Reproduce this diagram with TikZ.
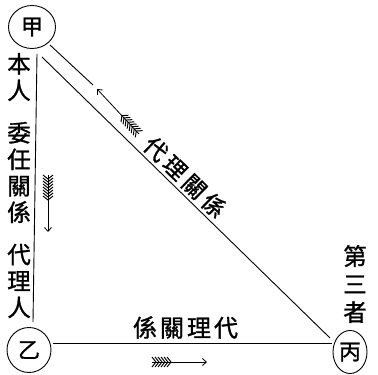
\documentclass[tikz,border=0pt]{standalone}
\usepackage{fontspec}
\newfontfamily\cjk[FakeBold=1.2]{Noto Sans CJK TC}
\usetikzlibrary{arrows.meta,shapes.geometric}
\tikzset{
  ring/.style={draw, ellipse, inner sep=0pt, line width=0.9pt, font=\cjk\fontsize{22}{22}\selectfont},
  lbl/.style={inner sep=0pt, align=center, font=\cjk\fontsize{23.5}{26.5}\selectfont},
  wire/.style={line width=0.9pt},
  shaft/.style={line width=0.8pt, -{Straight Barb[length=4pt,width=7pt,line width=0.8pt]}},
  fletch/.pic={
    \foreach \i in {0,3,...,#1}{\draw[line width=1pt] (\i,5) -- ++(4,-5) -- ++(-4,-5);}
  }
}
\begin{document}
\begin{tikzpicture}[x=1pt,y=-1pt]
\useasboundingbox (0,0) rectangle (378,375);
% circles
\node[ring, minimum width=47pt, minimum height=43pt] (jia) at (32,27) {甲};
\node[ring, minimum width=44pt, minimum height=45pt] (yi) at (29,350) {乙};
\node[ring, minimum width=34pt, minimum height=43pt] (bing) at (350,352) {丙};
% vertical labels
\node[lbl] (benren) at (19,77) {本\\人};
\node[lbl] (weiren) at (19,172.5) {委\\任\\關\\係};
\node[lbl] (dailiren) at (19,281) {代\\理\\人};
\node[lbl, font=\cjk\fontsize{23.5}{28}\selectfont] (disanzhe) at (355,284) {第\\三\\者};
% horizontal and diagonal labels
\node[lbl, font=\cjk\fontsize{24}{24}\selectfont] (hlab) at (185.5,327.5) {係\hspace{3pt}關\hspace{3pt}理\hspace{3pt}代};
\node[lbl, font=\cjk\fontsize{23}{23}\selectfont, rotate=-44.3] (dlab) at (185,177) {代\hspace{4pt}理\hspace{4pt}關\hspace{4pt}係};
% connectors
\draw[wire] ([shift={(5,5)}]jia.south) -- ([shift={(4,-5)}]yi.north);
\draw[wire] ([shift={(2,-7)}]yi.east) -- ([shift={(-1,-9)}]bing.west);
\draw[wire] ([shift={(10,30)}]jia.center) -- ([shift={(-20,-14)}]bing.center);
% arrows
\coordinate (dtail) at (139,134);
\coordinate (dtip) at (97,89);
\coordinate (vtail) at (48,175);
\coordinate (vtip) at (48,232);
\coordinate (htail) at (152,362);
\coordinate (htip) at (207,362);
\draw[wire] ([shift={(18,18)}]jia.center) -- ([shift={(-4,-4)}]dtip);
\draw[shaft] (dtail) -- (dtip);
\pic[rotate=133] at (dtail) {fletch=22};
\draw[shaft] (vtail) -- (vtip);
\pic[rotate=-90] at (vtail) {fletch=23};
\draw[shaft] (htail) -- (htip);
\pic at (htail) {fletch=16};
\end{tikzpicture}
\end{document}
